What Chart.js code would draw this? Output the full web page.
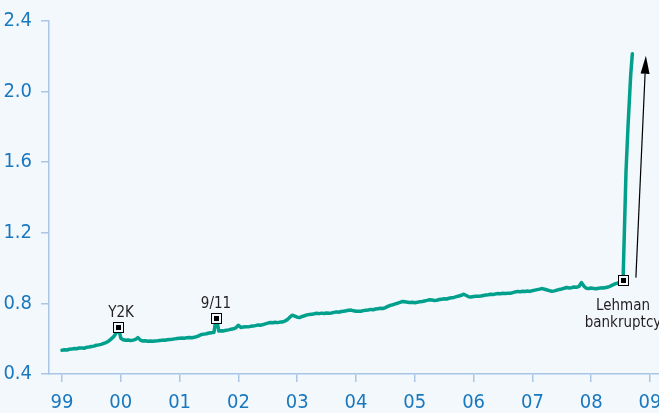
<!DOCTYPE html>
<html>
<head>
<meta charset="utf-8">
<script src="https://cdn.jsdelivr.net/npm/chart.js@4.4.1/dist/chart.umd.min.js"></script>
<style>
  html, body { margin: 0; padding: 0; background: #f3f8fc; }
  canvas { display: block; }
</style>
</head>
<body>
<canvas id="c" width="659" height="413"></canvas>
<script>
// Semi-monthly readings, one array per year (24 per year, 2008 runs to mid-September)
const rate1999 = [0.535,0.537,0.536,0.540,0.541,0.544,0.543,0.547,0.548,0.546,0.551,0.553,0.556,0.558,0.563,0.565,0.568,0.573,0.578,0.586,0.598,0.610,0.630,0.665];
const rate2000 = [0.603,0.594,0.591,0.593,0.590,0.592,0.596,0.606,0.592,0.587,0.588,0.586,0.587,0.585,0.587,0.588,0.590,0.592,0.591,0.594,0.596,0.597,0.599,0.601];
const rate2001 = [0.603,0.604,0.603,0.606,0.607,0.605,0.608,0.612,0.618,0.624,0.626,0.628,0.632,0.634,0.636,0.720,0.643,0.645,0.644,0.648,0.650,0.654,0.656,0.662];
const rate2002 = [0.676,0.664,0.666,0.668,0.667,0.670,0.672,0.674,0.678,0.676,0.680,0.684,0.688,0.692,0.690,0.693,0.691,0.694,0.695,0.700,0.708,0.722,0.733,0.728];
const rate2003 = [0.722,0.720,0.726,0.730,0.735,0.737,0.739,0.741,0.744,0.742,0.745,0.743,0.746,0.744,0.746,0.749,0.752,0.750,0.754,0.756,0.758,0.761,0.762,0.758];
const rate2004 = [0.756,0.755,0.756,0.759,0.761,0.763,0.766,0.764,0.768,0.770,0.772,0.771,0.776,0.783,0.789,0.792,0.797,0.801,0.806,0.811,0.809,0.807,0.805,0.806];
const rate2005 = [0.804,0.806,0.809,0.811,0.814,0.817,0.821,0.819,0.817,0.818,0.822,0.824,0.826,0.825,0.829,0.832,0.834,0.838,0.842,0.846,0.852,0.845,0.838,0.836];
const rate2006 = [0.839,0.841,0.840,0.842,0.845,0.847,0.849,0.852,0.850,0.854,0.856,0.855,0.857,0.856,0.858,0.857,0.861,0.865,0.868,0.866,0.869,0.867,0.870,0.868];
const rate2007 = [0.872,0.875,0.878,0.881,0.884,0.880,0.876,0.872,0.869,0.871,0.875,0.879,0.882,0.886,0.890,0.887,0.889,0.893,0.891,0.896,0.918,0.898,0.886,0.884];
const rate2008 = [0.887,0.885,0.883,0.886,0.888,0.887,0.890,0.893,0.899,0.906,0.912,0.916,0.922,0.930];

// Jump after the bankruptcy (dates in fractional years)
const jumpDates  = [2008.592, 2008.626, 2008.672, 2008.700];
const jumpValues = [1.549, 1.803, 2.096, 2.215];

// Axis ticks
const yearTicks  = [1999, 2000, 2001, 2002, 2003, 2004, 2005, 2006, 2007, 2008, 2009];
const yearLabels = ['99', '00', '01', '02', '03', '04', '05', '06', '07', '08', '09'];
const valueTicks = [0.4, 0.8, 1.2, 1.6, 2.0, 2.4];

// Marked events
const eventNames  = ['Y2K', '9/11', 'Lehman\nbankruptcy'];
const eventDates  = [1999 + 23 / 24, 2001 + 15 / 24, 2008 + 13 / 24];
const eventValues = [0.665, 0.720, 0.930];

// Arrow next to the jump
const arrowDates  = [2008.76, 2008.93];
const arrowValues = [0.946, 2.203];

const yearly = [rate1999, rate2000, rate2001, rate2002, rate2003, rate2004, rate2005, rate2006, rate2007, rate2008];
const points = [];
yearly.forEach((arr, k) => {
  arr.forEach((v, i) => points.push({ x: 1999 + k + i / 24, y: v }));
});
jumpDates.forEach((d, i) => points.push({ x: d, y: jumpValues[i] }));

const FONT = "'DejaVu Sans Condensed', 'Liberation Sans Narrow', sans-serif";
const AXIS = '#a9c6e6';
const TICK_TEXT = '#1a78bf';
const INK = '#231f20';

const eventPlugin = {
  id: 'events',
  afterDatasetsDraw(chart) {
    const { ctx, scales: { x, y } } = chart;
    ctx.save();
    // arrow
    const ax0 = x.getPixelForValue(arrowDates[0]), ay0 = y.getPixelForValue(arrowValues[0]);
    const ax1 = x.getPixelForValue(arrowDates[1]), ay1 = y.getPixelForValue(arrowValues[1]);
    const ang = Math.atan2(ay1 - ay0, ax1 - ax0);
    const headLen = 18, headHalf = 4.5;
    const bx = ax1 - headLen * Math.cos(ang), by = ay1 - headLen * Math.sin(ang);
    ctx.strokeStyle = '#000';
    ctx.lineWidth = 1.2;
    ctx.beginPath();
    ctx.moveTo(ax0, ay0);
    ctx.lineTo(bx, by);
    ctx.stroke();
    ctx.fillStyle = '#000';
    ctx.beginPath();
    ctx.moveTo(ax1, ay1);
    ctx.lineTo(bx + headHalf * Math.sin(ang), by - headHalf * Math.cos(ang));
    ctx.lineTo(bx - headHalf * Math.sin(ang), by + headHalf * Math.cos(ang));
    ctx.closePath();
    ctx.fill();

    // event boxes and names
    ctx.font = '15px ' + FONT;
    ctx.textAlign = 'center';
    eventNames.forEach((name, i) => {
      const px = Math.round(x.getPixelForValue(eventDates[i]));
      const py = Math.round(y.getPixelForValue(eventValues[i]));
      ctx.fillStyle = '#f3f8fc';
      ctx.fillRect(px - 5, py - 5, 10, 10);
      ctx.strokeStyle = '#000';
      ctx.lineWidth = 1;
      ctx.strokeRect(px - 5 + 0.5, py - 5 + 0.5, 10, 10);
      ctx.fillStyle = '#000';
      ctx.fillRect(px - 2, py - 2, 5, 5);
      ctx.fillStyle = INK;
      ctx.textBaseline = 'alphabetic';
      const lines = name.split('\n');
      if (lines.length === 1) {
        ctx.fillText(lines[0], px + (i === 0 ? 3 : 0), py - 10);
      } else {
        lines.forEach((ln, j) => ctx.fillText(ln, px, py + 30 + j * 17));
      }
    });
    ctx.restore();
  }
};

new Chart(document.getElementById('c'), {
  type: 'line',
  data: {
    datasets: [{
      data: points,
      borderColor: '#00a08d',
      borderWidth: 3.5,
      borderCapStyle: 'round',
      borderJoinStyle: 'round',
      pointRadius: 0,
      tension: 0,
      fill: false
    }]
  },
  options: {
    responsive: false,
    animation: false,
    devicePixelRatio: 1,
    layout: { padding: { top: 19, left: 0, right: 0, bottom: 0 } },
    plugins: { legend: { display: false }, tooltip: { enabled: false } },
    scales: {
      x: {
        type: 'linear',
        min: 1998.779,
        max: 2009.153,
        afterBuildTicks: s => { s.ticks = yearTicks.map(v => ({ value: v })); },
        afterFit: s => { s.height = 39; s.paddingLeft = 0; s.paddingRight = 0; },
        ticks: {
          autoSkip: false,
          maxRotation: 0,
          padding: 9,
          color: TICK_TEXT,
          font: { family: FONT, size: 20 },
          callback: v => yearLabels[yearTicks.indexOf(v)]
        },
        grid: { drawOnChartArea: false, drawTicks: true, tickLength: 8, color: AXIS, lineWidth: 1.5 },
        border: { color: AXIS, width: 1.5 }
      },
      y: {
        min: 0.4,
        max: 2.4,
        afterBuildTicks: s => { s.ticks = valueTicks.map(v => ({ value: v })); },
        afterFit: s => { s.width = 49; },
        ticks: {
          padding: 9,
          color: TICK_TEXT,
          font: { family: FONT, size: 20 },
          callback: v => Number(v).toFixed(1)
        },
        grid: { drawOnChartArea: false, drawTicks: true, tickLength: 8, color: AXIS, lineWidth: 1.5 },
        border: { color: AXIS, width: 1.5 }
      }
    }
  },
  plugins: [eventPlugin]
});
</script>
</body>
</html>
